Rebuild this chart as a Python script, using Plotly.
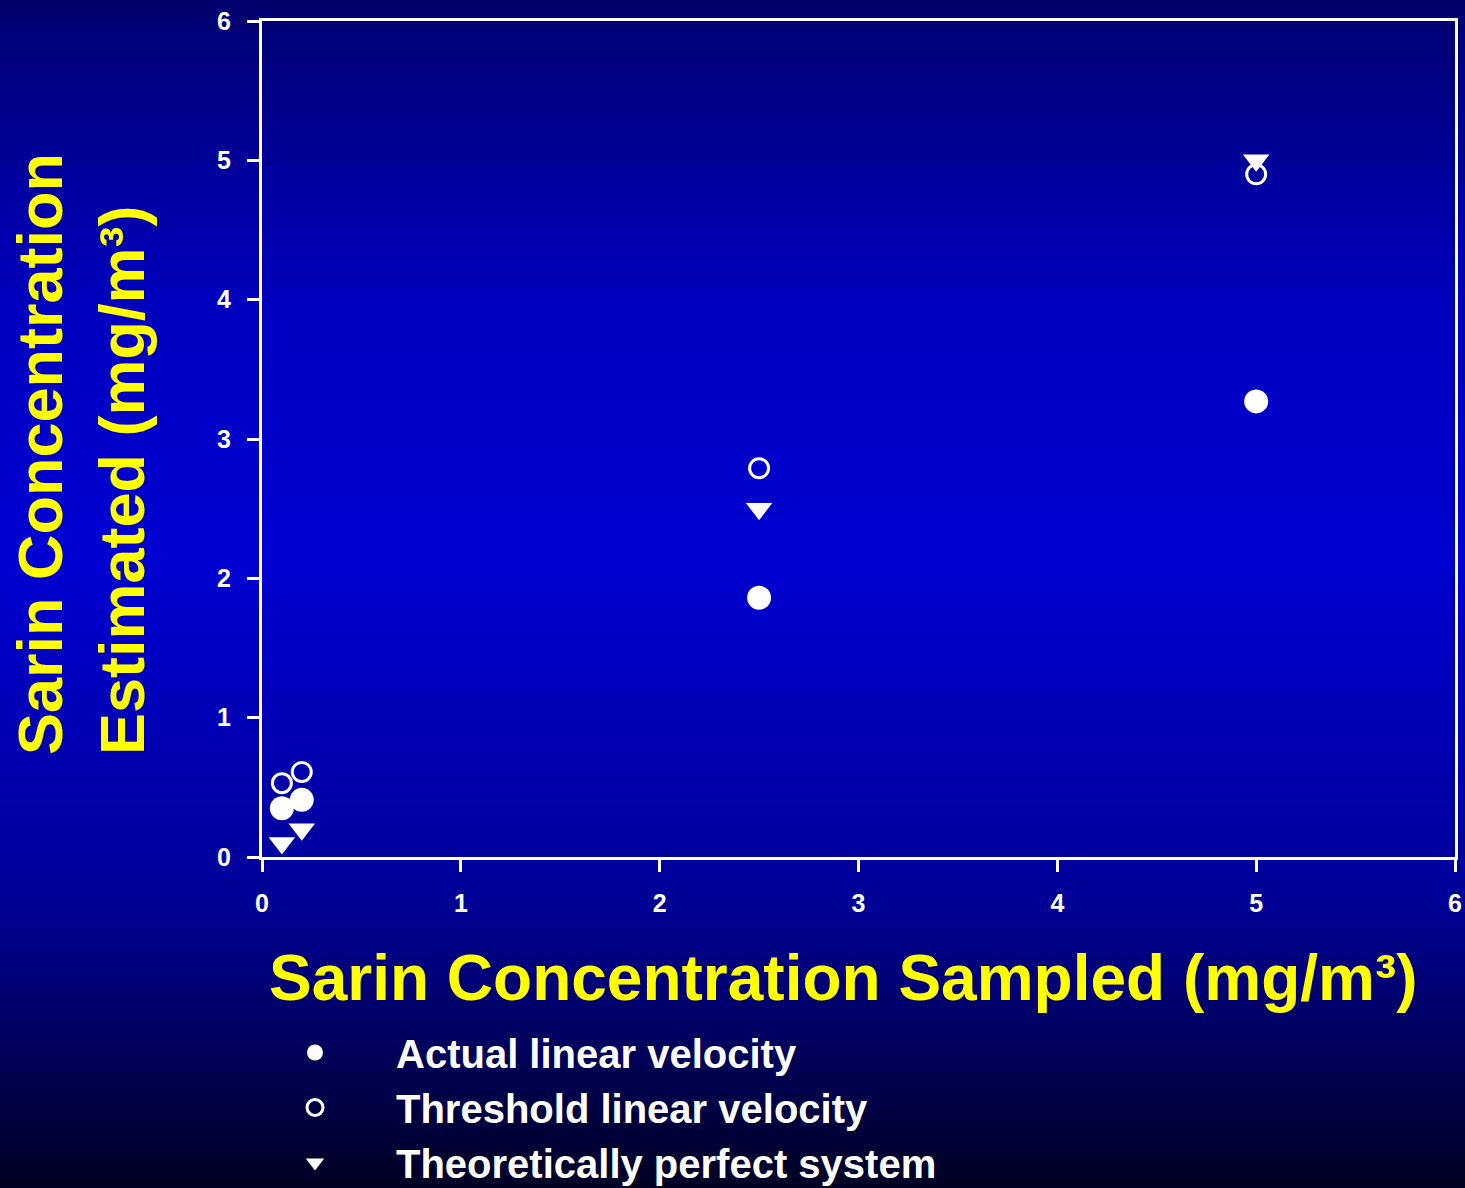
import plotly.graph_objects as go

# data
sampled = [0.1, 0.2, 2.5, 5.0]
actual_est = [0.35, 0.41, 1.86, 3.27]
threshold_est = [0.53, 0.61, 2.79, 4.90]
perfect_est = [0.1, 0.2, 2.5, 5.0]
tick_vals = [0, 1, 2, 3, 4, 5, 6]

W, H = 1465, 1188
ML, MR, MT, MB = 262, 10, 21, 331
PW, PH = W - ML - MR, H - MT - MB
FONT = 'Liberation Sans, Arial'

fig = go.Figure()

fig.add_trace(go.Scatter(x=sampled, y=actual_est, mode='markers', name='Actual linear velocity',
                         marker=dict(symbol='circle', size=24, color='white')))
fig.add_trace(go.Scatter(x=sampled, y=threshold_est, mode='markers', name='Threshold linear velocity',
                         marker=dict(symbol='circle-open', size=19, color='white', line=dict(width=3, color='white'))))
fig.add_trace(go.Scatter(x=sampled, y=perfect_est, mode='markers', name='Theoretically perfect system',
                         marker=dict(symbol='triangle-down', size=23, color='white')))

# vertical background gradient (navy -> bright blue -> near black)
stops = [(0, 110), (300, 190), (560, 210), (900, 150), (1188, 35)]

def blue_at(py):
    for (y0, b0), (y1, b1) in zip(stops[:-1], stops[1:]):
        if y0 <= py <= y1:
            return b0 + (b1 - b0) * (py - y0) / (y1 - y0)
    return stops[-1][1]

shapes = []
n = 150
step = H / n
for i in range(n):
    top = i * step - (20 if i == 0 else 0)
    bot = (i + 1) * step + (20 if i == n - 1 else 1)
    b = int(round(blue_at(i * step + step / 2)))
    shapes.append(dict(type='rect', xref='paper', yref='paper', layer='below',
                       x0=-0.5, x1=1.5,
                       y0=(H - MB - bot) / PH, y1=(H - MB - top) / PH,
                       line=dict(width=0), fillcolor=f'rgb(0,0,{b})'))

axis_common = dict(range=[0, 6], tickvals=tick_vals, showgrid=False, zeroline=False,
                   showline=True, linecolor='white', linewidth=3, mirror=True,
                   ticks='outside', ticklen=12, tickwidth=3, tickcolor='white',
                   tickfont=dict(family=FONT, size=25, color='white', weight='bold'))

fig.update_layout(
    width=W, height=H,
    margin=dict(l=ML, r=MR, t=MT, b=MB, autoexpand=False),
    paper_bgcolor='rgb(0,0,120)', plot_bgcolor='rgba(0,0,0,0)',
    shapes=shapes,
    xaxis=dict(**axis_common, ticklabelstandoff=10),
    yaxis=dict(**axis_common, ticklabelstandoff=11),
    showlegend=True,
    legend=dict(x=(234 - ML) / PW, y=(H - MB - 1020) / PH, xanchor='left', yanchor='top',
                bgcolor='rgba(0,0,0,0)', itemwidth=152, tracegroupgap=0,
                font=dict(family=FONT, size=40, color='white', weight='bold')),
    annotations=[
        dict(text='Sarin Concentration Sampled (mg/m³)', xref='paper', yref='paper',
             x=(843 - ML) / PW, y=(H - MB - 978) / PH, xanchor='center', yanchor='middle',
             showarrow=False, font=dict(family=FONT, size=64, color='yellow', weight='bold')),
        dict(text='Sarin Concentration<br>Estimated (mg/m³)', xref='paper', yref='paper',
             x=(81 - ML) / PW, y=(H - MB - 454) / PH, xanchor='center', yanchor='middle', textangle=-90,
             align='left', showarrow=False,
             font=dict(family=FONT, size=63, color='yellow', weight='bold')),
    ],
)

fig.write_html("out.html", config={'displayModeBar': False},
               post_script="document.body.style.margin='0';document.body.style.overflow='hidden';")
